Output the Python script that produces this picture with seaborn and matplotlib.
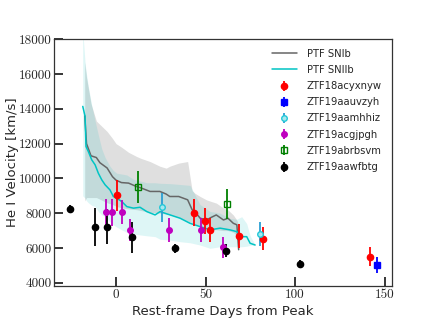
import numpy as np
import pandas as pd
import matplotlib
matplotlib.use("Agg")
import matplotlib.pyplot as plt
import seaborn as sns

# -----------------------------
# DATA
# -----------------------------
# PTF SNIb mean curve and 1-sigma band
ib_days = [-17.5, -16.5, -14, -11, -9, -5, -2, 0, 3, 7, 11.5, 14, 19, 24.5, 28, 30,
           35, 40, 42.5, 44, 47, 50.5, 53, 56, 60, 62.5, 65.5, 67.5, 68.5]
ib_vel = [13600, 12000, 11300, 11200, 10900, 10600, 10100, 9900, 9760, 9730, 9530, 9450,
          9250, 9250, 9100, 8960, 8960, 8770, 8200, 8090, 7710, 7610, 7750, 7900, 7610,
          7710, 7420, 7330, 5900]
ib_hi = [16700, 15800, 14300, 13300, 13100, 12700, 12300, 12000, 11800, 11500, 11260,
         11150, 10970, 10700, 10590, 10700, 10880, 10970, 9300, 9150, 8960, 8770, 8680,
         8580, 8300, 8190, 7900, 7600, 7300]
ib_lo = [8700, 8900, 8900, 8900, 8800, 8600, 8500, 8400, 8300, 8250, 8200, 8150, 8050,
         8000, 7950, 7900, 7750, 7550, 7450, 7400, 7250, 7100, 7050, 7050, 7000, 7000,
         6900, 6700, 5900]

# PTF SNIIb mean curve and 1-sigma band
iib_days = [-18.6, -17.3, -16.8, -15.5, -13.6, -11.7, -9.9, -8, -6.1, -3.4, -1.5, 0.4,
            3.2, 6, 9.7, 13.4, 17.2, 21.8, 24.6, 30.2, 35.8, 41.3, 46.9, 52.5, 58.1,
            63.7, 67.4, 70.2, 73, 74.9, 77.7]
iib_vel = [14140, 13570, 11840, 11550, 11070, 10780, 10300, 9920, 9630, 9340, 8960, 8860,
           8670, 8380, 8290, 8340, 8090, 7900, 8090, 7900, 7710, 7420, 7230, 7040, 7140,
           7040, 6940, 6650, 6650, 6270, 6170]
iib_hi = [18500, 16650, 16200, 15300, 14200, 13300, 12500, 11700, 11200, 10700, 10450,
          10300, 10250, 10200, 9950, 9850, 9750, 9750, 9720, 9700, 9650, 9600, 8500,
          8100, 8000, 7700, 7650, 7800, 7400, 6700, 6200]
iib_lo = [9000, 8860, 8750, 8600, 8450, 8380, 8100, 7900, 7800, 7500, 7330, 7200, 7040,
          6900, 6800, 6750, 6700, 6650, 6500, 6450, 6360, 6300, 6170, 5980, 6070, 6070,
          6070, 6070, 6100, 6150, 6170]

# individual ZTF objects: days, velocity, error
ztf18acyxnyw_t = [0.4, 43.4, 49.7, 52.7, 68.7, 82.1, 141.9]
ztf18acyxnyw_v = [9030, 8030, 7530, 7030, 6710, 6540, 5500]
ztf18acyxnyw_e = [880, 790, 750, 680, 690, 640, 560]

ztf19aauvzyh_t = [145.6]
ztf19aauvzyh_v = [5020]
ztf19aauvzyh_e = [460]

ztf19aamhhiz_t = [25.5, 80.5]
ztf19aamhhiz_v = [8340, 6820]
ztf19aamhhiz_e = [820, 680]

ztf19acgjpgh_t = [-5.5, -2.4, 3.4, 7.8, 29.6, 47.4, 59.6]
ztf19acgjpgh_v = [8050, 8050, 8050, 7040, 7040, 7030, 6030]
ztf19acgjpgh_e = [770, 770, 700, 640, 670, 690, 600]

ztf19abrbsvm_t = [12.5, 62.2]
ztf19abrbsvm_v = [9530, 8540]
ztf19abrbsvm_e = [920, 860]

ztf19aawfbtg_t = [-25.7, -11.9, -4.8, 9.1, 33.1, 61.3, 103.0]
ztf19aawfbtg_v = [8250, 7210, 7230, 6620, 5980, 5850, 5080]
ztf19aawfbtg_e = [240, 1100, 990, 900, 250, 370, 250]

# -----------------------------
# PLOT
# -----------------------------
sns.set_style("white")
plt.rcParams["font.family"] = ["DejaVu Sans"]

fig = plt.figure(figsize=(4.36, 3.27), dpi=100)
ax = fig.add_axes([54.3 / 436, 41.3 / 327, 337.4 / 436, 246.4 / 327])

ax.fill_between(ib_days, ib_lo, ib_hi, color="gray", alpha=0.25, lw=0)
ax.fill_between(iib_days, iib_lo, iib_hi, color="c", alpha=0.13, lw=0)

ib_df = pd.DataFrame({"day": ib_days, "vel": ib_vel})
iib_df = pd.DataFrame({"day": iib_days, "vel": iib_vel})
sns.lineplot(data=ib_df, x="day", y="vel", ax=ax, color="#666666", lw=1.1,
             label="PTF SNIb", sort=False)
sns.lineplot(data=iib_df, x="day", y="vel", ax=ax, color="#00c4c4", lw=1.1,
             label="PTF SNIIb", sort=False)

ax.errorbar(ztf18acyxnyw_t, ztf18acyxnyw_v, yerr=ztf18acyxnyw_e, fmt="o", color="red",
            ms=4.5, elinewidth=1.3, capsize=0, label="ZTF18acyxnyw")
ax.errorbar(ztf19aauvzyh_t, ztf19aauvzyh_v, yerr=ztf19aauvzyh_e, fmt="s", color="blue",
            ms=4.5, elinewidth=1.3, capsize=0, label="ZTF19aauvzyh")
ax.errorbar(ztf19aamhhiz_t, ztf19aamhhiz_v, yerr=ztf19aamhhiz_e, fmt="o", color="#2b9fd3",
            mec="#22c8d8", mfc="#a8e8ee", ms=4, elinewidth=1.3, capsize=0,
            label="ZTF19aamhhiz")
ax.errorbar(ztf19acgjpgh_t, ztf19acgjpgh_v, yerr=ztf19acgjpgh_e, fmt="o", color="m",
            ms=4, elinewidth=1.3, capsize=0, label="ZTF19acgjpgh")
ax.errorbar(ztf19abrbsvm_t, ztf19abrbsvm_v, yerr=ztf19abrbsvm_e, fmt="s", color="green",
            mfc="none", ms=4.5, elinewidth=1.3, capsize=0, label="ZTF19abrbsvm")
ax.errorbar(ztf19aawfbtg_t, ztf19aawfbtg_v, yerr=ztf19aawfbtg_e, fmt="o", color="black",
            ms=4.5, elinewidth=1.3, capsize=0, label="ZTF19aawfbtg")

ax.set_xlim(-34.5, 154)
ax.set_ylim(3830, 18000)
ax.set_xticks([0, 50, 100, 150])
ax.set_yticks(np.arange(4000, 18001, 2000))
ax.tick_params(direction="in", length=6.5, width=1.1, bottom=True, left=True,
               top=False, right=False, labelsize=9.5, pad=2, color="black")
for lbl in ax.get_xticklabels() + ax.get_yticklabels():
    lbl.set_fontfamily("cmr10")
for sp in ax.spines.values():
    sp.set_linewidth(0.9)
    sp.set_color("#333333")

ax.set_xlabel("Rest-frame Days from Peak", fontsize=9.5, labelpad=3)
ax.set_ylabel("He I Velocity [km/s]", fontsize=9.5, labelpad=0)

ax.legend(loc="upper left", bbox_to_anchor=(0.644, 0.962), frameon=False,
          fontsize=7.2, handlelength=2.5, handletextpad=1.0, labelspacing=0.62,
          borderpad=0, borderaxespad=0)

fig.savefig("out.png", dpi=100)
